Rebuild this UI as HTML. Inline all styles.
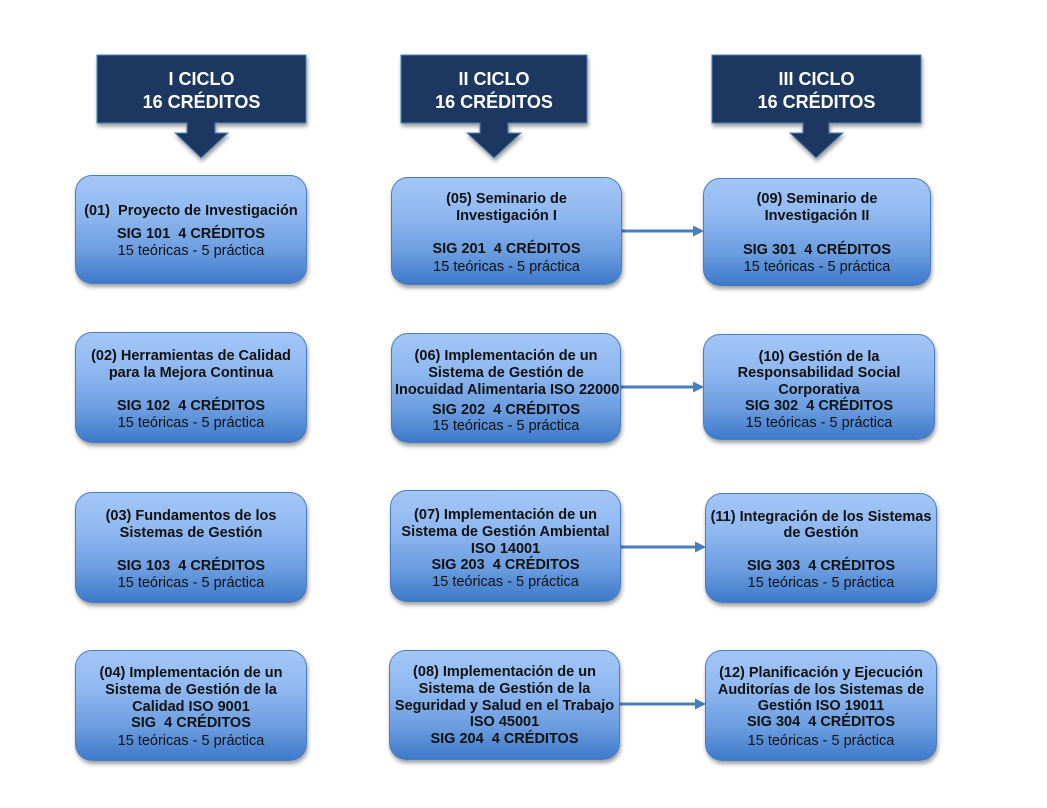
<!DOCTYPE html>
<html><head><meta charset="utf-8">
<style>
html,body{margin:0;padding:0;background:#fff;}
body{width:1047px;height:808px;position:relative;overflow:hidden;font-family:"Liberation Sans",Arial,sans-serif;}
.box{position:absolute;border:1px solid #4a7dc0;border-radius:17px;box-sizing:border-box;
background:linear-gradient(to bottom,#a3c6f7 0%,#8fb8f0 35%,#6b9de0 70%,#3e79ca 100%);
box-shadow:1px 3px 4px rgba(0,0,0,0.38);overflow:hidden;}
.l{position:absolute;left:-40px;right:-40px;text-align:center;font-size:14.5px;line-height:17px;color:#111;white-space:pre;margin-top:2px;}
.b{font-weight:bold;}
.h{position:absolute;color:#fff;font-weight:bold;font-size:18px;line-height:23px;text-align:center;white-space:pre;}
svg{position:absolute;left:0;top:0;}
</style></head><body>
<svg width="1047" height="808">
<defs>
<filter id="sh" x="-10%" y="-10%" width="130%" height="130%"><feGaussianBlur in="SourceAlpha" stdDeviation="2"/><feOffset dx="1" dy="3"/><feComponentTransfer><feFuncA type="linear" slope="0.4"/></feComponentTransfer><feMerge><feMergeNode/><feMergeNode in="SourceGraphic"/></feMerge></filter>
</defs>
<g fill="#1b3961" stroke="#4f81bd" stroke-width="1" filter="url(#sh)">
<polygon points="97,55 306,55 306,123 215,123 215,133 228,133 201,158 175,133 187,133 187,123 97,123"/>
<polygon points="401,55 587,55 587,123 508,123 508,133 521,133 494,158 467,133 480,133 480,123 401,123"/>
<polygon points="712,55 921,55 921,123 829,123 829,133 843,133 816,158 790,133 803,133 803,123 712,123"/>
</g>
<g stroke="#4a7ebb" stroke-width="3" fill="#4a7ebb">
<line x1="622" y1="231" x2="694" y2="231"/><polygon stroke="none" points="693,225.5 704,231 693,236.5"/>
<line x1="621" y1="387" x2="694" y2="387"/><polygon stroke="none" points="693,381.5 704,387 693,392.5"/>
<line x1="621" y1="547" x2="696" y2="547"/><polygon stroke="none" points="695,541.5 706,547 695,552.5"/>
<line x1="620" y1="704" x2="696" y2="704"/><polygon stroke="none" points="695,698.5 706,704 695,709.5"/>
</g>
</svg>

<div class="h" style="left:97px;width:209px;top:68px;">I CICLO
16 CRÉDITOS</div>
<div class="h" style="left:401px;width:186px;top:68px;">II CICLO
16 CRÉDITOS</div>
<div class="h" style="left:712px;width:209px;top:68px;">III CICLO
16 CRÉDITOS</div>

<!-- Column 1 -->
<div class="box" style="left:75px;top:175px;width:232px;height:109px;">
<div class="l b" style="top:25px;">(01)  Proyecto de Investigación</div>
<div class="l b" style="top:48px;">SIG 101  4 CRÉDITOS</div>
<div class="l" style="top:65px;">15 teóricas - 5 práctica</div>
</div>
<div class="box" style="left:75px;top:332px;width:232px;height:111px;">
<div class="l b" style="top:13px;">(02) Herramientas de Calidad</div>
<div class="l b" style="top:30px;">para la Mejora Continua</div>
<div class="l b" style="top:63px;">SIG 102  4 CRÉDITOS</div>
<div class="l" style="top:80px;">15 teóricas - 5 práctica</div>
</div>
<div class="box" style="left:75px;top:492px;width:232px;height:111px;">
<div class="l b" style="top:13px;">(03) Fundamentos de los</div>
<div class="l b" style="top:30px;">Sistemas de Gestión</div>
<div class="l b" style="top:63px;">SIG 103  4 CRÉDITOS</div>
<div class="l" style="top:80px;">15 teóricas - 5 práctica</div>
</div>
<div class="box" style="left:75px;top:650px;width:232px;height:111px;">
<div class="l b" style="top:12px;">(04) Implementación de un</div>
<div class="l b" style="top:29px;">Sistema de Gestión de la</div>
<div class="l b" style="top:46px;">Calidad ISO 9001</div>
<div class="l b" style="top:62px;">SIG  4 CRÉDITOS</div>
<div class="l" style="top:80px;">15 teóricas - 5 práctica</div>
</div>

<!-- Column 2 -->
<div class="box" style="left:391px;top:177px;width:231px;height:108px;">
<div class="l b" style="top:11px;">(05) Seminario de</div>
<div class="l b" style="top:28px;">Investigación I</div>
<div class="l b" style="top:61px;">SIG 201  4 CRÉDITOS</div>
<div class="l" style="top:79px;">15 teóricas - 5 práctica</div>
</div>
<div class="box" style="left:391px;top:333px;width:230px;height:110px;">
<div class="l b" style="top:12px;">(06) Implementación de un</div>
<div class="l b" style="top:29px;">Sistema de Gestión de</div>
<div class="l b" style="top:46px;left:0;right:auto;width:400px;text-align:left;padding-left:3px;">Inocuidad Alimentaria ISO 22000</div>
<div class="l b" style="top:66px;">SIG 202  4 CRÉDITOS</div>
<div class="l" style="top:82px;">15 teóricas - 5 práctica</div>
</div>
<div class="box" style="left:390px;top:490px;width:231px;height:112px;">
<div class="l b" style="top:14px;">(07) Implementación de un</div>
<div class="l b" style="top:31px;">Sistema de Gestión Ambiental</div>
<div class="l b" style="top:48px;">ISO 14001</div>
<div class="l b" style="top:64px;">SIG 203  4 CRÉDITOS</div>
<div class="l" style="top:81px;">15 teóricas - 5 práctica</div>
</div>
<div class="box" style="left:389px;top:650px;width:231px;height:110px;">
<div class="l b" style="top:11px;">(08) Implementación de un</div>
<div class="l b" style="top:28px;">Sistema de Gestión de la</div>
<div class="l b" style="top:45px;">Seguridad y Salud en el Trabajo</div>
<div class="l b" style="top:61px;">ISO 45001</div>
<div class="l b" style="top:78px;">SIG 204  4 CRÉDITOS</div>
</div>

<!-- Column 3 -->
<div class="box" style="left:703px;top:178px;width:228px;height:108px;">
<div class="l b" style="top:10px;">(09) Seminario de</div>
<div class="l b" style="top:27px;">Investigación II</div>
<div class="l b" style="top:61px;">SIG 301  4 CRÉDITOS</div>
<div class="l" style="top:78px;">15 teóricas - 5 práctica</div>
</div>
<div class="box" style="left:703px;top:334px;width:232px;height:106px;">
<div class="l b" style="top:12px;">(10) Gestión de la</div>
<div class="l b" style="top:28px;">Responsabilidad Social</div>
<div class="l b" style="top:45px;">Corporativa</div>
<div class="l b" style="top:61px;">SIG 302  4 CRÉDITOS</div>
<div class="l" style="top:78px;">15 teóricas - 5 práctica</div>
</div>
<div class="box" style="left:705px;top:493px;width:232px;height:110px;">
<div class="l b" style="top:13px;">(11) Integración de los Sistemas</div>
<div class="l b" style="top:29px;">de Gestión</div>
<div class="l b" style="top:62px;">SIG 303  4 CRÉDITOS</div>
<div class="l" style="top:79px;">15 teóricas - 5 práctica</div>
</div>
<div class="box" style="left:705px;top:650px;width:232px;height:111px;">
<div class="l b" style="top:12px;">(12) Planificación y Ejecución</div>
<div class="l b" style="top:29px;">Auditorías de los Sistemas de</div>
<div class="l b" style="top:45px;">Gestión ISO 19011</div>
<div class="l b" style="top:61px;">SIG 304  4 CRÉDITOS</div>
<div class="l" style="top:80px;">15 teóricas - 5 práctica</div>
</div>
</body></html>
